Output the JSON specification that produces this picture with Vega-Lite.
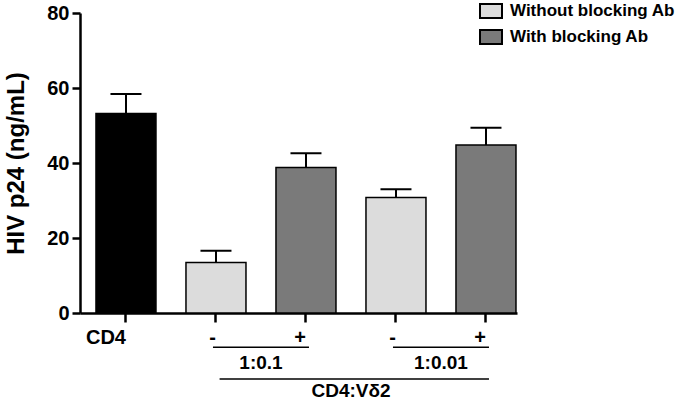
{
  "$schema": "https://vega.github.io/schema/vega-lite/v6.json",
  "width": 437,
  "height": 300,
  "autosize": {"type": "none"},
  "padding": {"left": 80, "top": 13, "right": 159, "bottom": 90},
  "background": "white",
  "config": {
    "view": {"stroke": null},
    "font": "Liberation Sans",
    "text": {"font": "Liberation Sans"}
  },
  "datasets": {
    "bars": [
      {"cat": "CD4", "group": "CD4", "mean": 53.2, "upper": 58.4},
      {"cat": "a-", "group": "Without blocking Ab", "mean": 13.5, "upper": 16.6},
      {"cat": "a+", "group": "With blocking Ab", "mean": 38.8, "upper": 42.6},
      {"cat": "b-", "group": "Without blocking Ab", "mean": 30.8, "upper": 33.0},
      {"cat": "b+", "group": "With blocking Ab", "mean": 44.8, "upper": 49.4}
    ],
    "ratios": [
      {"from": "a-", "to": "a+", "label": "1:0.1"},
      {"from": "b-", "to": "b+", "label": "1:0.01"}
    ],
    "total": [
      {"from": "a-", "to": "b+", "label": "CD4:Vδ2"}
    ]
  },
  "layer": [
    {
      "data": {"name": "bars"},
      "mark": {"type": "rule", "stroke": "black", "strokeWidth": 2},
      "encoding": {
        "x": {"field": "cat", "type": "nominal", "sort": null},
        "y": {"field": "mean", "type": "quantitative"},
        "y2": {"field": "upper"}
      }
    },
    {
      "data": {"name": "bars"},
      "mark": {"type": "tick", "color": "black", "thickness": 2, "size": 31, "opacity": 1},
      "encoding": {
        "x": {"field": "cat", "type": "nominal", "sort": null},
        "y": {"field": "upper", "type": "quantitative"}
      }
    },
    {
      "data": {"name": "bars"},
      "mark": {"type": "bar", "stroke": "black", "strokeWidth": 1.5},
      "encoding": {
        "x": {
          "field": "cat", "type": "nominal", "sort": null,
          "scale": {"paddingInner": 0.3333, "paddingOuter": 0.0944, "align": 0.94},
          "axis": {
            "title": null,
            "labelAngle": 0,
            "labelExpr": "datum.label == 'CD4' ? 'CD4' : substring(datum.label, 1)",
            "labelFont": "Liberation Sans",
            "labelFontWeight": "bold",
            "labelFontSize": 20,
            "labelColor": "black",
            "labelPadding": 5,
            "labelBaseline": "top",
            "ticks": true,
            "tickBand": "center",
            "tickSize": 9,
            "tickWidth": 2.5,
            "tickColor": "black",
            "domainColor": "black",
            "domainWidth": 2.5,
            "grid": false
          }
        },
        "y": {
          "field": "mean", "type": "quantitative",
          "scale": {"domain": [0, 80], "nice": false, "zero": true},
          "axis": {
            "title": "HIV p24 (ng/mL)",
            "titleFont": "Liberation Sans",
            "titleFontSize": 24,
            "titleFontWeight": "bold",
            "titleColor": "black",
            "titlePadding": 18,
            "values": [0, 20, 40, 60, 80],
            "labelFont": "Liberation Sans",
            "labelFontWeight": "bold",
            "labelFontSize": 20,
            "labelColor": "black",
            "labelPadding": 3,
            "ticks": true,
            "tickSize": 8,
            "tickWidth": 2.5,
            "tickColor": "black",
            "domainColor": "black",
            "domainWidth": 2.5,
            "grid": false
          }
        },
        "color": {
          "field": "group", "type": "nominal",
          "scale": {
            "domain": ["Without blocking Ab", "With blocking Ab", "CD4"],
            "range": ["#dcdcdc", "#7a7a7a", "#000000"]
          },
          "legend": {
            "title": null,
            "values": ["Without blocking Ab", "With blocking Ab"],
            "orient": "none",
            "legendX": 400,
            "legendY": -13,
            "symbolType": "M-1.1,-0.7L1.1,-0.7L1.1,0.7L-1.1,0.7Z",
            "symbolSize": 400,
            "symbolStrokeColor": "black",
            "symbolStrokeWidth": 2,
            "symbolOpacity": 1,
            "labelFont": "Liberation Sans",
            "labelFontWeight": "bold",
            "labelFontSize": 17,
            "labelLimit": 0,
            "labelColor": "black",
            "labelOffset": 8,
            "rowPadding": 4
          }
        }
      }
    },
    {
      "data": {"name": "ratios"},
      "mark": {"type": "rule", "stroke": "black", "strokeWidth": 1.5},
      "encoding": {
        "x": {"field": "from", "type": "nominal", "sort": null, "bandPosition": 0.45},
        "x2": {"field": "to", "bandPosition": 0.55},
        "y": {"datum": -9.1, "type": "quantitative"}
      }
    },
    {
      "data": {"name": "ratios"},
      "mark": {"type": "text", "font": "Liberation Sans", "fontWeight": "bold", "fontSize": 19, "color": "black", "baseline": "middle", "align": "center"},
      "encoding": {
        "x": {"field": "from", "type": "nominal", "sort": null, "bandPosition": 1.25},
        "y": {"datum": -13.3, "type": "quantitative"},
        "text": {"field": "label"}
      }
    },
    {
      "data": {"name": "total"},
      "mark": {"type": "rule", "stroke": "black", "strokeWidth": 1.5},
      "encoding": {
        "x": {"field": "from", "type": "nominal", "sort": null, "bandPosition": 0.56},
        "x2": {"field": "to", "bandPosition": 0.55},
        "y": {"datum": -17.6, "type": "quantitative"}
      }
    },
    {
      "data": {"name": "total"},
      "mark": {"type": "text", "font": "Liberation Sans", "fontWeight": "bold", "fontSize": 19, "color": "black", "baseline": "middle", "align": "center"},
      "encoding": {
        "x": {"field": "from", "type": "nominal", "sort": null, "bandPosition": 2.75},
        "y": {"datum": -20.8, "type": "quantitative"},
        "text": {"field": "label"}
      }
    }
  ]
}
